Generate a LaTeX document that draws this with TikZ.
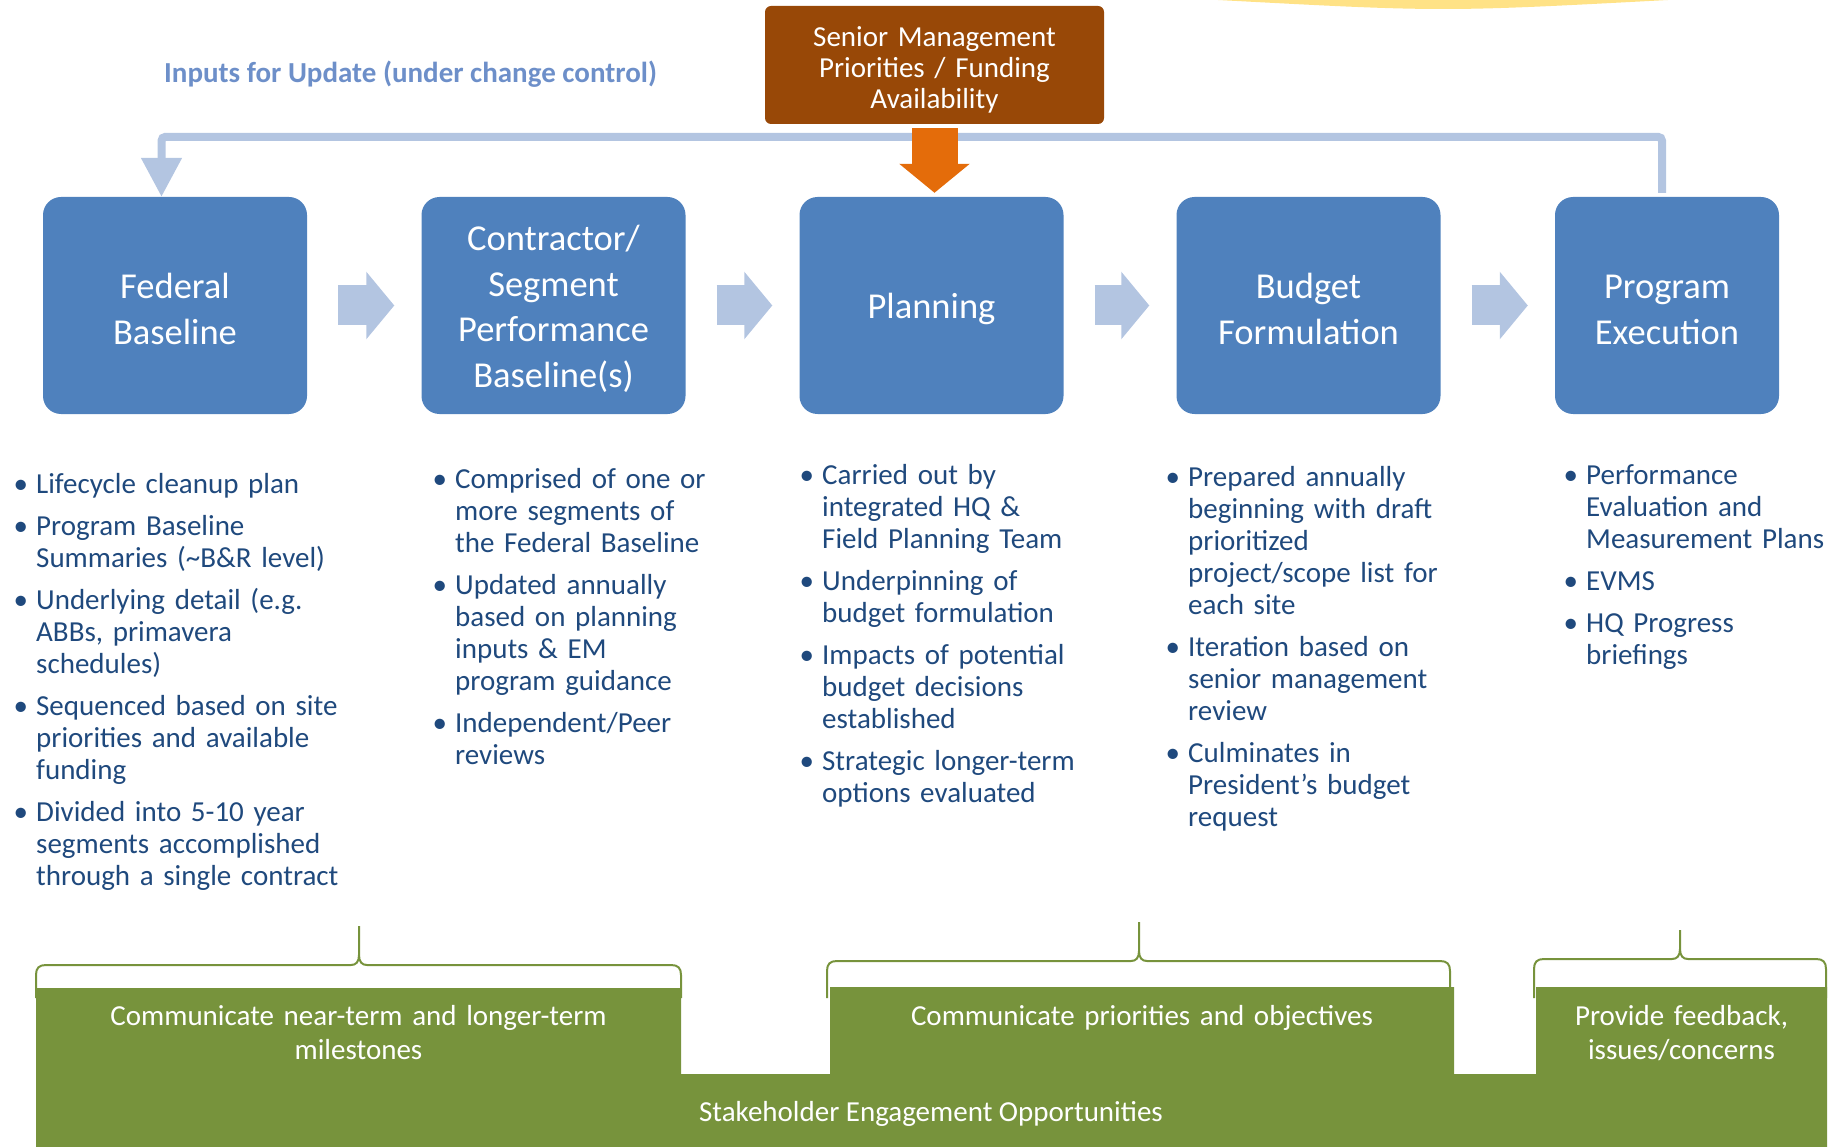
\documentclass[tikz,border=0pt]{standalone}
\usepackage{fontspec}
\setmainfont{Carlito}
\usetikzlibrary{arrows.meta}

\definecolor{stageblue}{HTML}{4F81BD}
\definecolor{paleblue}{HTML}{B3C5E1}
\definecolor{mgmtbrown}{HTML}{984807}
\definecolor{fundorange}{HTML}{E46C0A}
\definecolor{stakegreen}{HTML}{77933C}
\definecolor{bulletnavy}{HTML}{1F497D}
\definecolor{inputblue}{HTML}{6D8FC9}
\definecolor{sunyellow}{HTML}{FFE286}

% one bullet item, hanging indent
\newcommand{\bul}[1]{\hangindent=24pt\hangafter=1\makebox[24pt][l]{\hspace{1.5pt}•}#1\par\vspace{10pt}}

\begin{document}
\begin{tikzpicture}[x=1pt,y=-1pt,
  stage/.style={rounded corners=18pt,fill=stageblue,text=white,inner sep=0pt,
    minimum width=264pt,minimum height=217pt,text width=250pt,align=center,
    font=\fontsize{36.5}{45.5}\selectfont,execute at begin node={\rule{0pt}{32pt}}},
  flow/.style={paleblue,line width=40pt,shorten <=31pt,shorten >=27pt,
    -{Triangle[width=66pt,length=28pt]}},
  feedback/.style={paleblue,line width=8pt,rounded corners=4pt,
    -{Triangle[width=39pt,length=39pt]}},
  fund/.style={fundorange,line width=46pt,-{Triangle[width=69pt,length=29pt]}},
  bullets/.style={anchor=base west,inner sep=0pt,text width=340pt,align=left,
    text=bulletnavy,font=\fontsize{29}{32}\selectfont},
  greentext/.style={anchor=base,inner sep=0pt,text width=600pt,align=center,
    text=white,font=\fontsize{29}{34}\selectfont},
  bracket/.style={stakegreen,line width=2pt}]

\useasboundingbox (0,0) rectangle (1841,1147);

% shape cut by the top edge
\fill[sunyellow] (1218,0) .. controls (1443,12) .. (1668,0) -- cycle;

\node[anchor=base west,inner sep=0pt,text=inputblue,font=\bfseries\fontsize{29}{34}\selectfont]
  (inputs) at (164,83) {Inputs for Update (under change control)};

\node[rounded corners=6pt,fill=mgmtbrown,text=white,inner sep=0pt,
  minimum width=339pt,minimum height=118pt,text width=320pt,align=center,
  font=\fontsize{29}{31}\selectfont,execute at begin node={\rule{0pt}{30pt}}]
  (mgmt) at (934.5,65) {Senior Management\\Priorities / Funding\\Availability};

% stages
\node[stage] (fed)  at (175,305.5)   {Federal\\Baseline};
\node[stage] (cpb)  at (553.5,305.5) {Contractor/\\Segment\\Performance\\Baseline(s)};
\node[stage] (plan) at (931.5,305.5) {Planning};
\node[stage] (bud)  at (1308.5,305.5) {Budget\\Formulation};
\node[stage,minimum width=224pt,text width=210pt] (exec) at (1667,305.5) {Program\\Execution};

\foreach \a/\b in {fed/cpb,cpb/plan,plan/bud,bud/exec}
  \draw[flow] (\a) -- (\b);

\draw[feedback] ([xshift=-5pt,yshift=4pt]exec.north) -- ++(0,-56) -| ([xshift=-13.5pt]fed.north);
\draw[fund] ([yshift=-4pt]mgmt.south) -- ([yshift=4pt]mgmt.south |- plan.north);

% bullet lists
\node[bullets] (fedlist) at (12,493) {%
  \bul{Lifecycle cleanup plan}
  \bul{Program Baseline\newline Summaries (\textasciitilde B\&R level)}
  \bul{Underlying detail (e.g.\newline ABBs, primavera\newline schedules)}
  \bul{Sequenced based on site\newline priorities and available\newline funding}
  \bul{Divided into 5-10 year\newline segments accomplished\newline through a single contract}};
\node[bullets] (cpblist) at (431,488) {%
  \bul{Comprised of one or\newline more segments of\newline the Federal Baseline}
  \bul{Updated annually\newline based on planning\newline inputs \& EM\newline program guidance}
  \bul{Independent/Peer\newline reviews}};
\node[bullets] (planlist) at (798,484) {%
  \bul{Carried out by\newline integrated HQ \&\newline Field Planning Team}
  \bul{Underpinning of\newline budget formulation}
  \bul{Impacts of potential\newline budget decisions\newline established}
  \bul{Strategic longer-term\newline options evaluated}};
\node[bullets] (budlist) at (1164,486) {%
  \bul{Prepared annually\newline beginning with draft\newline prioritized\newline project/scope list for\newline each site}
  \bul{Iteration based on\newline senior management\newline review}
  \bul{Culminates in\newline President’s budget\newline request}};
\node[bullets] (execlist) at (1562,484) {%
  \bul{Performance\newline Evaluation and\newline Measurement Plans}
  \bul{EVMS}
  \bul{HQ Progress\newline briefings}};

% braces over the engagement panels
\foreach \l/\r/\t/\h/\p in {36/681/359/965/926,827/1450/1139/961/922,1534/1826/1680/959/930}
  \draw[bracket] (\l,998) -- ({\l},{\h+10}) .. controls ({\l},{\h+3}) and ({\l+3},{\h}) .. ({\l+10},{\h})
    -- ({\t-8},{\h}) .. controls ({\t-3},{\h}) and ({\t},{\h-3}) .. ({\t},{\h-10}) -- (\t,\p)
    -- ({\t},{\h-10}) .. controls ({\t},{\h-3}) and ({\t+3},{\h}) .. ({\t+8},{\h})
    -- ({\r-10},{\h}) .. controls ({\r-3},{\h}) and ({\r},{\h+3}) .. ({\r},{\h+10}) -- (\r,998);

\fill[stakegreen] (36,1147) -- (36,988) -- (681,988) -- (681,1074) -- (830,1074) -- (830,987)
  -- (1454,987) -- (1454,1074) -- (1536,1074) -- (1536,987) -- (1827,987) -- (1827,1147) -- cycle;

\node[greentext] (nearterm) at (358.5,1025) {Communicate near-term and longer-term\\milestones};
\node[greentext] (priorities) at (1142,1025) {Communicate priorities and objectives};
\node[greentext] (feedbk) at (1681.5,1025) {Provide feedback,\\issues/concerns};
\node[anchor=base,inner sep=0pt,text=white,font=\fontsize{29}{34}\selectfont]
  (stake) at (931,1121) {Stakeholder Engagement Opportunities};
\end{tikzpicture}
\end{document}
